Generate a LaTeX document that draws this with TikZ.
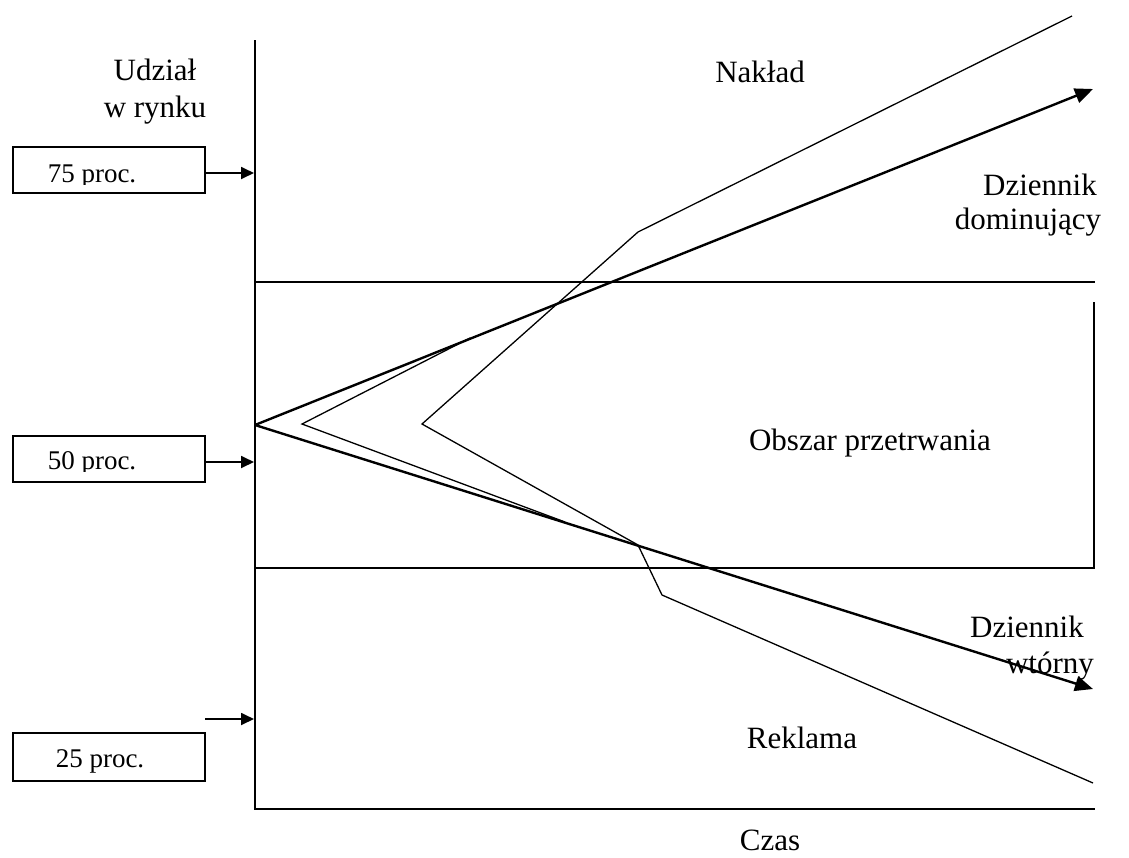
\documentclass[tikz,border=0pt]{standalone}
\usepackage{fontspec}
\setmainfont{Liberation Serif}
\usetikzlibrary{arrows.meta}
\begin{document}
\begin{tikzpicture}[x=1pt,y=-1pt,
  lbl/.style={font=\fontsize{31}{36}\selectfont, inner sep=0, anchor=base},
  ptxt/.style={font=\fontsize{27}{30}\selectfont, inner sep=0, anchor=base},
  pbox/.style={draw, line width=1.4pt},
  axis/.style={line width=1.6pt},
  thin/.style={line width=1.3pt},
  thick/.style={line width=2.4pt},
  parrow/.style={line width=1.8pt, -{Triangle[length=13pt,width=12pt]}},
  marrow/.style={thick, -{Triangle[length=18pt,width=15pt]}}]
\useasboundingbox (0,0) rectangle (1129,857);

% axes
\coordinate (top) at (255,40);
\coordinate (corner) at (255,809);
\coordinate (xend) at (1095,809);
\draw[axis] (top) -- (corner) -- (xend);

% region boundaries
\coordinate (h1a) at (255,282); \coordinate (h1b) at (1095,282);
\coordinate (h2a) at (255,568); \coordinate (h2b) at (1095,568);
\draw[axis] (h1a) -- (h1b);
\draw[axis] (h2a) -- (h2b);
\coordinate (bra) at (1094,302); \coordinate (brb) at (1094,567);
\draw[line width=2pt] (bra) -- (brb);

% percentage boxes
\node[pbox, minimum width=192pt, minimum height=46pt, inner sep=0] (b75) at (109,170) {};
\node[pbox, minimum width=192pt, minimum height=46pt, inner sep=0] (b50) at (109,459) {};
\node[pbox, minimum width=192pt, minimum height=48pt, inner sep=0] (b25) at (109,757) {};
\begin{scope}
\clip (14,148) rectangle (204,184);
\node[ptxt] (t75) at (92,182) {75 proc.};
\end{scope}
\begin{scope}
\clip (14,437) rectangle (204,471);
\node[ptxt] (t50) at (92,469) {50 proc.};
\end{scope}
\node[ptxt] (t25) at (100,767) {25 proc.};

\coordinate (a75) at (254,173);
\coordinate (a50) at (254,462);
\coordinate (s25) at (205,719);
\coordinate (a25) at (254,719);
\draw[parrow] (b75.east |- a75) -- (a75);
\draw[parrow] (b50.east |- a50) -- (a50);
\draw[parrow] (s25) -- (a25);

% fan of lines
\coordinate (O) at (255,425);
\coordinate (dom) at (1093,89);
\coordinate (wt) at (1093,689);
\draw[marrow] (O) -- (dom);
\draw[marrow] (O) -- (wt);

\coordinate (A0) at (1072,16);
\coordinate (A1) at (638,232);
\coordinate (A2) at (422,424);
\coordinate (A3) at (638,545);
\coordinate (A4) at (662,595);
\coordinate (A5) at (1093,783);
\draw[thin, line join=miter] (A0) -- (A1) -- (A2) -- (A3) -- (A4) -- (A5);

\coordinate (B0) at (470,338);
\coordinate (B1) at (302,424);
\coordinate (B2) at (565,522);
\draw[thin, line join=miter] (B0) -- (B1) -- (B2);

% labels
\node[lbl] (udz) at (155,80) {Udział};
\node[lbl] (wry) at (155,117) {w rynku};
\node[lbl] (nak) at (760,82) {Nakład};
\node[lbl] (dz1) at (1040,195) {Dziennik};
\node[lbl] (dom1) at (1028,229) {dominujący};
\node[lbl] (obs) at (870,450) {Obszar przetrwania};
\node[lbl] (dz2) at (1027,637) {Dziennik};
\node[lbl] (wto) at (1050,673) {wtórny};
\node[lbl] (rek) at (802,748) {Reklama};
\node[lbl] (czas) at (770,850) {Czas};
\end{tikzpicture}
\end{document}
